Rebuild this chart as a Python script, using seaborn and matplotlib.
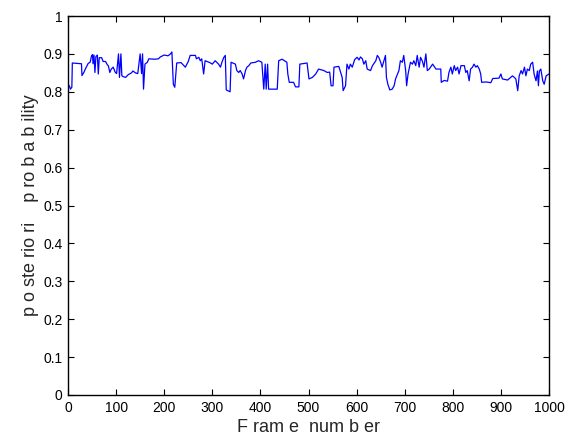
import numpy as np
import pandas as pd
import matplotlib
matplotlib.use("Agg")
import matplotlib.pyplot as plt
import seaborn as sns

frames = [0, 3, 5, 8, 9, 28, 29, 33, 36, 42, 46, 49, 51, 52, 54, 56, 58, 61, 63, 65,
          70, 73, 78, 81, 84, 87, 90, 94, 98, 101, 105, 107, 110, 112, 115, 120, 125,
          132, 135, 140, 145, 150, 153, 155, 157, 160, 165, 168, 180, 188, 192, 200,
          208, 213, 216, 219, 222, 226, 235, 244, 250, 254, 265, 267, 272, 275, 278,
          282, 285, 295, 300, 306, 313, 317, 320, 324, 327, 329, 337, 339, 348, 351,
          355, 358, 362, 365, 369, 372, 376, 380, 390, 396, 403, 407, 410, 412, 415,
          417, 435, 438, 445, 455, 457, 460, 469, 473, 480, 482, 497, 501, 508, 515,
          521, 532, 539, 544, 547, 551, 553, 563, 570, 572, 577, 580, 584, 587, 591,
          596, 601, 605, 608, 612, 615, 619, 622, 629, 633, 640, 643, 646, 650, 653,
          660, 662, 665, 669, 674, 678, 681, 685, 688, 691, 695, 698, 702, 704, 707,
          712, 716, 719, 723, 726, 730, 733, 737, 740, 744, 747, 751, 758, 765, 775,
          776, 782, 789, 792, 796, 799, 803, 806, 810, 813, 817, 824, 827, 830, 834,
          837, 841, 844, 848, 851, 855, 858, 860, 869, 879, 883, 896, 900, 903, 914,
          924, 928, 931, 935, 938, 942, 945, 949, 952, 955, 959, 962, 966, 969, 973,
          976, 978, 980, 983, 987, 990, 994, 1000]
probs = [0.820, 0.815, 0.807, 0.812, 0.876, 0.874, 0.843, 0.851, 0.860, 0.875, 0.878,
         0.895, 0.898, 0.874, 0.897, 0.851, 0.893, 0.897, 0.847, 0.890, 0.890, 0.880,
         0.880, 0.873, 0.868, 0.851, 0.860, 0.865, 0.852, 0.848, 0.900, 0.838, 0.900,
         0.842, 0.840, 0.838, 0.845, 0.850, 0.855, 0.850, 0.848, 0.900, 0.848, 0.900,
         0.807, 0.873, 0.878, 0.887, 0.886, 0.887, 0.892, 0.897, 0.895, 0.900, 0.905,
         0.820, 0.812, 0.876, 0.877, 0.865, 0.880, 0.896, 0.896, 0.887, 0.891, 0.882,
         0.887, 0.847, 0.882, 0.877, 0.873, 0.882, 0.873, 0.865, 0.878, 0.891, 0.896,
         0.805, 0.800, 0.878, 0.873, 0.856, 0.851, 0.856, 0.847, 0.834, 0.856, 0.865,
         0.869, 0.876, 0.878, 0.882, 0.878, 0.807, 0.873, 0.807, 0.873, 0.807, 0.807,
         0.882, 0.886, 0.878, 0.847, 0.825, 0.825, 0.813, 0.813, 0.873, 0.876, 0.834,
         0.838, 0.847, 0.860, 0.856, 0.851, 0.852, 0.816, 0.816, 0.865, 0.867, 0.838,
         0.803, 0.816, 0.873, 0.860, 0.873, 0.865, 0.885, 0.891, 0.884, 0.892, 0.887,
         0.873, 0.882, 0.860, 0.856, 0.869, 0.882, 0.896, 0.891, 0.878, 0.865, 0.896,
         0.838, 0.820, 0.805, 0.807, 0.816, 0.834, 0.847, 0.856, 0.882, 0.878, 0.896,
         0.856, 0.816, 0.847, 0.878, 0.873, 0.882, 0.869, 0.896, 0.865, 0.891, 0.880,
         0.865, 0.900, 0.856, 0.860, 0.873, 0.860, 0.860, 0.825, 0.830, 0.828, 0.851,
         0.865, 0.847, 0.869, 0.856, 0.865, 0.847, 0.869, 0.869, 0.851, 0.856, 0.829,
         0.860, 0.865, 0.873, 0.865, 0.869, 0.860, 0.847, 0.825, 0.826, 0.824, 0.835,
         0.836, 0.847, 0.834, 0.831, 0.842, 0.838, 0.834, 0.803, 0.842, 0.856, 0.847,
         0.865, 0.842, 0.860, 0.856, 0.873, 0.878, 0.847, 0.829, 0.855, 0.816, 0.855,
         0.860, 0.829, 0.820, 0.842, 0.847]

x_ticks = [0, 100, 200, 300, 400, 500, 600, 700, 800, 900, 1000]
y_ticks = [0, 0.1, 0.2, 0.3, 0.4, 0.5, 0.6, 0.7, 0.8, 0.9, 1]
y_tick_labels = ["0", "0.1", "0.2", "0.3", "0.4", "0.5", "0.6", "0.7", "0.8", "0.9", "1"]
x_label = "F ram e  num b er"
y_label = "p o ste rio ri    p ro b a b ility"

df = pd.DataFrame({"frame": frames, "prob": probs})

sns.set_style("ticks")
plt.rcParams["font.family"] = ["Liberation Sans", "DejaVu Sans"]

fig = plt.figure(figsize=(5.69, 4.41), dpi=100)
ax = fig.add_axes([68 / 569, 1 - 395 / 441, (549 - 68) / 569, (395 - 16) / 441])
sns.lineplot(data=df, x="frame", y="prob", ax=ax, color="#0000ff", linewidth=0.9)

ax.set_xlim(0, 1000)
ax.set_ylim(0, 1)
ax.set_xticks(x_ticks)
ax.set_xticklabels([str(t) for t in x_ticks])
ax.set_yticks(y_ticks)
ax.set_yticklabels(y_tick_labels)
ax.tick_params(direction="in", length=4, width=0.8, top=True, right=True,
               labelsize=10, colors="black", pad=4)
for s in ax.spines.values():
    s.set_visible(True)
    s.set_linewidth(1.0)
    s.set_color("black")
ax.set_xlabel(x_label, fontsize=13, labelpad=3)
ax.set_ylabel(y_label, fontsize=13, labelpad=3)

fig.savefig("out.png", dpi=100, facecolor="white")
